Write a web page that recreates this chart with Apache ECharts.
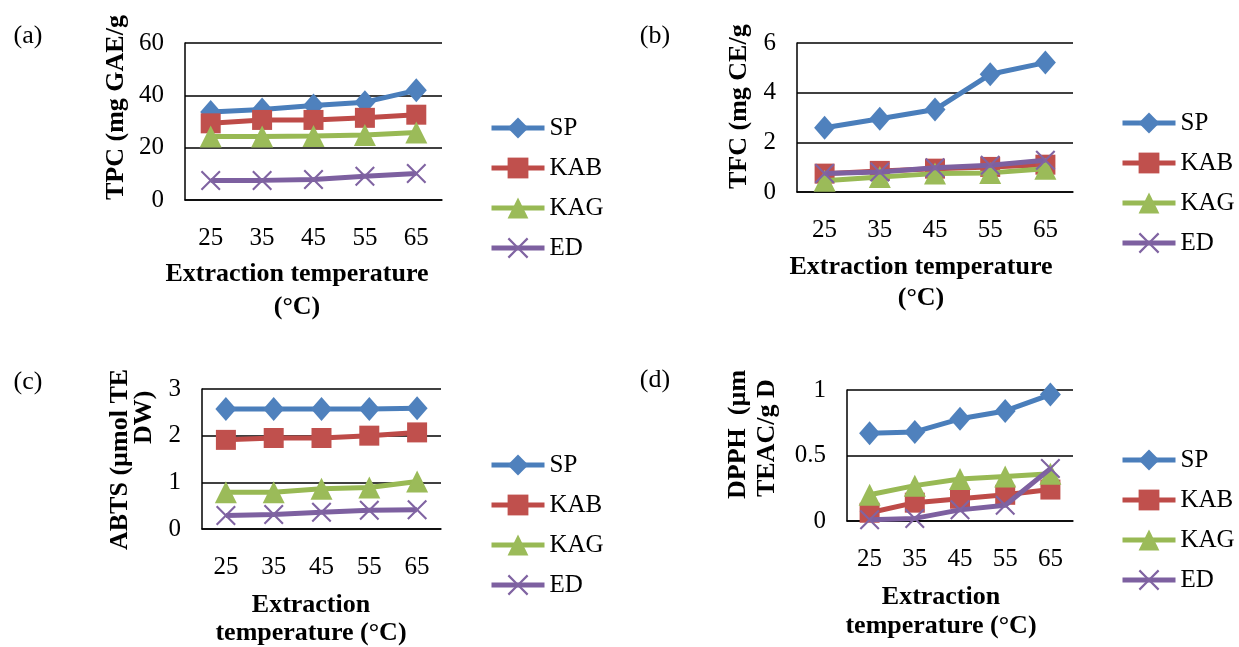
<!DOCTYPE html>
<html>
<head>
<meta charset="utf-8">
<script src="https://cdn.jsdelivr.net/npm/echarts@6/dist/echarts.min.js"></script>
<style>
  html, body { margin: 0; padding: 0; background: #fff; }
  #main { width: 1239px; height: 647px; }
</style>
</head>
<body>
<div id="main"></div>
<script>
// categories (extraction temperature, °C)
const temps = ['25', '35', '45', '55', '65'];
const seriesNames = ['SP', 'KAB', 'KAG', 'ED'];

// (a) TPC
const tpcSP  = [33.6, 34.6, 36.1, 37.4, 41.9];
const tpcKAB = [29.3, 30.6, 30.6, 31.4, 32.6];
const tpcKAG = [24.3, 24.3, 24.5, 24.8, 25.8];
const tpcED  = [7.5, 7.5, 7.8, 9.1, 10.1];

// (b) TFC
const tfcSP  = [2.59, 2.95, 3.32, 4.74, 5.21];
const tfcKAB = [0.74, 0.85, 0.94, 1.01, 1.1];
const tfcKAG = [0.45, 0.6, 0.74, 0.77, 0.94];
const tfcED  = [0.74, 0.81, 0.98, 1.08, 1.28];

// (c) ABTS
const abtsSP  = [2.57, 2.57, 2.57, 2.57, 2.59];
const abtsKAB = [1.91, 1.95, 1.95, 2.0, 2.07];
const abtsKAG = [0.79, 0.79, 0.86, 0.89, 1.02];
const abtsED  = [0.29, 0.31, 0.36, 0.4, 0.41];

// (d) DPPH
const dpphSP  = [0.67, 0.68, 0.78, 0.84, 0.965];
const dpphKAB = [0.063, 0.14, 0.17, 0.2, 0.24];
const dpphKAG = [0.2, 0.27, 0.32, 0.34, 0.36];
const dpphED  = [0.01, 0.02, 0.085, 0.12, 0.4];

const font = 'Liberation Serif';
const lineColors = ['#4A7EBB', '#BE4B48', '#98B954', '#7D60A0'];
const markColors = ['#4F81BD', '#C0504D', '#9BBB59', '#8064A2'];
const xMark = 'path://M0,1.5 L1.5,0 L10,8.5 L18.5,0 L20,1.5 L11.5,10 L20,18.5 L18.5,20 L10,11.5 L1.5,20 L0,18.5 L8.5,10 Z';
const symbols = ['diamond', 'rect', 'triangle', xMark];
const symbolSizes = [[21, 24], 20, 22, 20];

const panels = [
    { grid: { left: 185, top: 43, width: 257, height: 157 }, y: [0, 60, 20], data: [tpcSP, tpcKAB, tpcKAG, tpcED], legend: { left: 489, top: 115 } },
    { grid: { left: 797, top: 43, width: 276, height: 149 }, y: [0, 6, 2], data: [tfcSP, tfcKAB, tfcKAG, tfcED], legend: { left: 1120, top: 110 } },
    { grid: { left: 202, top: 389, width: 239, height: 140 }, y: [0, 3, 1], data: [abtsSP, abtsKAB, abtsKAG, abtsED], legend: { left: 489, top: 452 } },
    { grid: { left: 847, top: 390, width: 226, height: 131 }, y: [0, 1, 0.5], data: [dpphSP, dpphKAB, dpphKAG, dpphED], legend: { left: 1120, top: 447 } }
];

const grids = [], xAxes = [], yAxes = [], series = [], legends = [];
panels.forEach((p, i) => {
    grids.push(p.grid);
    xAxes.push({
        type: 'category', gridIndex: i, data: temps,
        axisLine: { lineStyle: { color: '#000', width: 1.5 } },
        axisTick: { show: false },
        axisLabel: { color: '#000', fontFamily: font, fontSize: 25, margin: 26 }
    });
    yAxes.push({
        type: 'value', gridIndex: i, min: p.y[0], max: p.y[1], interval: p.y[2],
        axisLine: { show: true, lineStyle: { color: '#000', width: 1.5 } },
        axisTick: { show: false },
        splitLine: { lineStyle: { color: '#000', width: 1.5 } },
        axisLabel: { color: '#000', fontFamily: font, fontSize: 25, margin: 21 }
    });
    p.data.forEach((d, k) => {
        series.push({
            name: seriesNames[k], type: 'line', xAxisIndex: i, yAxisIndex: i,
            data: d,
            symbol: symbols[k], symbolSize: symbolSizes[k],
            lineStyle: { color: lineColors[k], width: 5 },
            itemStyle: { color: markColors[k] },
            z: 2 + k
        });
    });
    legends.push({
        orient: 'vertical', left: p.legend.left, top: p.legend.top, padding: 0,
        itemWidth: 53, itemHeight: 26, itemGap: 14,
        data: seriesNames,
        lineStyle: { width: 5 },
        textStyle: { color: '#000', fontFamily: font, fontSize: 25, lineHeight: 26 }
    });
});

function txt(x, y, text, opts) {
    return Object.assign({
        type: 'text', x: x, y: y,
        style: Object.assign({
            text: text, fill: '#000', fontFamily: font, fontSize: 26,
            textAlign: 'center', textVerticalAlign: 'middle'
        }, opts && opts.style)
    }, opts && opts.el);
}
const bold = { style: { fontWeight: 'bold' } };
const vert = (x, y, text) => txt(x, y, text, { el: { rotation: Math.PI / 2 }, style: { fontWeight: 'bold', textAlign: 'left' } });

const graphics = [
    txt(28, 36, '(a)'),
    txt(655, 36, '(b)'),
    txt(28, 382, '(c)'),
    txt(655, 380, '(d)'),
    vert(116, 200, 'TPC (mg GAE/g'),
    vert(739, 189, 'TFC (mg CE/g'),
    vert(120, 550, 'ABTS (µmol TE'),
    vert(144, 444, 'DW)'),
    vert(738, 499, 'DPPH  (µm'),
    vert(767, 497, 'TEAC/g D'),
    txt(297, 274, 'Extraction temperature', bold),
    txt(297, 307, '(°C)', bold),
    txt(921, 267, 'Extraction temperature', bold),
    txt(921, 298, '(°C)', bold),
    txt(311, 605, 'Extraction', bold),
    txt(311, 633, 'temperature (°C)', bold),
    txt(941, 597, 'Extraction', bold),
    txt(941, 626, 'temperature (°C)', bold)
];

const chart = echarts.init(document.getElementById('main'));
chart.setOption({
    backgroundColor: '#fff',
    animation: false,
    grid: grids,
    xAxis: xAxes,
    yAxis: yAxes,
    legend: legends,
    series: series,
    graphic: graphics
});
</script>
</body>
</html>
